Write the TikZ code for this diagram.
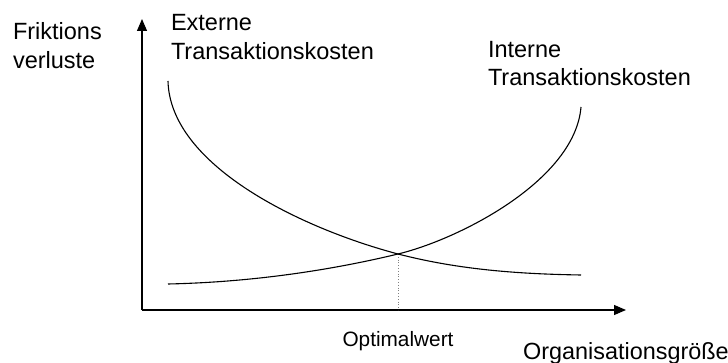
\documentclass[tikz,border=0pt]{standalone}
\usepackage{fontspec}
\setmainfont{Liberation Sans}
\usetikzlibrary{arrows.meta}
\begin{document}
\begin{tikzpicture}[x=1pt,y=-1pt,
  axis/.style={line width=1.1pt, -{Triangle[length=12pt,width=10pt]}},
  curve/.style={line width=1.1pt},
  lbl/.style={inner sep=0pt, outer sep=0pt, align=left, anchor=north west, font=\fontsize{23.5}{28.5}\selectfont},
  guide/.style={line width=0.8pt, dotted, gray}]
\useasboundingbox (0,0) rectangle (728,363);
% axes
\coordinate (O) at (142,310);
\coordinate (ytip) at (142,19);
\coordinate (xtip) at (626,310);
\draw[axis] (O) -- (ytip);
\draw[axis] (O) -- (xtip);
% curves
\coordinate (X) at (398,254);
\coordinate (extA) at (168,81);
\coordinate (extB) at (581,275);
\coordinate (intA) at (168,284);
\coordinate (intB) at (581,107);
\coordinate (Xfoot) at (398,310);
\draw[guide] (X) -- (Xfoot);
\draw[curve] (extA) .. controls (170,165) and (300,228) .. (X)
  .. controls (460,270) and (520,274) .. (extB);
\draw[curve] (intA) .. controls (260,282) and (340,268) .. (X)
  .. controls (460,239) and (575,180) .. (intB);
% labels
\node[lbl] (ylab) at (13,22.5) {Friktions\\verluste};
\node[lbl] (extlab) at (171,14.5) {Externe\\Transaktionskosten};
\node[lbl] (intlab) at (488,41) {Interne\\Transaktionskosten};
\node[inner sep=0pt, anchor=base, font=\fontsize{20.8}{24}\selectfont] (opt) at (398,346) {Optimalwert};
\node[inner sep=0pt, anchor=base west, font=\fontsize{23.4}{28}\selectfont] (xlab) at (523,359) {Organisationsgröße};
\end{tikzpicture}
\end{document}
